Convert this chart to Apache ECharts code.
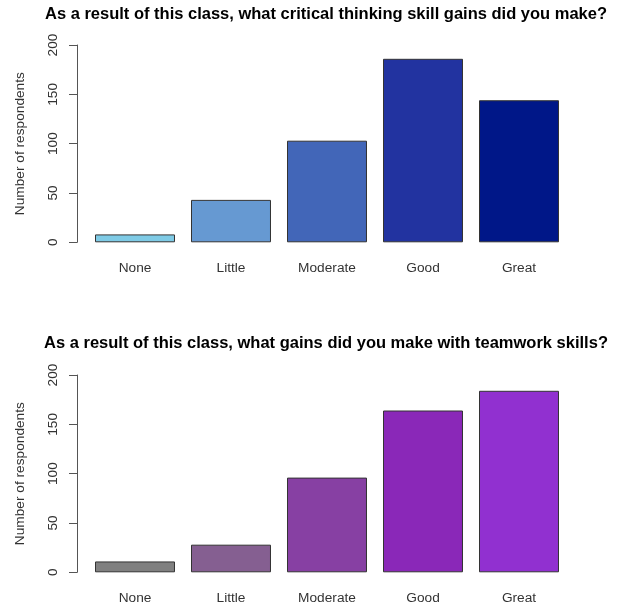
<!DOCTYPE html>
<html><head><meta charset="utf-8">
<script src="https://cdn.jsdelivr.net/npm/echarts@6/dist/echarts.min.js"></script>
<style>html,body{margin:0;padding:0;background:#fff}#c{width:619px;height:606px}</style>
</head><body><div id="c"></div>
<script>
var categories = ["None", "Little", "Moderate", "Good", "Great"];
var criticalValues = [8, 43, 103, 186, 144];
var teamworkValues = [11, 28, 96, 164, 184];
var criticalColors = ["#7fcbe6", "#6699d2", "#4266b8", "#2233a0", "#001788"];
var teamworkColors = ["#808080", "#855f91", "#8740a3", "#8a28b8", "#9130d0"];
var yTicks = [0, 50, 100, 150, 200];
var titles = ["As a result of this class, what critical thinking skill gains did you make?",
              "As a result of this class, what gains did you make with teamwork skills?"];
var yName = "Number of respondents";

var font = "Liberation Sans, Arial, Helvetica, sans-serif";
function items(vals, cols) {
  return vals.map(function (v, i) { return { value: v, itemStyle: { color: cols[i] } }; });
}
function xAx(idx) {
  return { type: 'category', gridIndex: idx, data: categories, boundaryGap: true,
    axisLine: { show: false }, axisTick: { show: false }, splitLine: { show: false },
    axisLabel: { margin: 19, fontSize: 13.7, color: '#333', fontFamily: font } };
}
function yAx(idx) {
  return { type: 'value', gridIndex: idx, min: yTicks[0], max: yTicks[yTicks.length - 1], interval: 50,
    offset: 10, name: yName, nameLocation: 'middle', nameGap: 50, nameRotate: 90,
    nameTextStyle: { fontSize: 13.7, color: '#333', fontFamily: font },
    axisLine: { show: true, lineStyle: { color: '#555', width: 1 } },
    axisTick: { show: true, length: 8, lineStyle: { color: '#555' } },
    splitLine: { show: false },
    axisLabel: { rotate: 90, margin: 17, fontSize: 13.7, color: '#333', fontFamily: font } };
}
var chart = echarts.init(document.getElementById('c'));
chart.setOption({
  animation: false,
  backgroundColor: '#fff',
  title: [
    { text: titles[0], left: 321, top: 1, textAlign: 'center',
      textStyle: { fontSize: 16.5, fontWeight: 'bold', color: '#000', fontFamily: font } },
    { text: titles[1], left: 321, top: 330, textAlign: 'center',
      textStyle: { fontSize: 16.5, fontWeight: 'bold', color: '#000', fontFamily: font } }
  ],
  grid: [
    { left: 87, width: 480, top: 45, height: 197.3 },
    { left: 87, width: 480, top: 375, height: 197.3 }
  ],
  xAxis: [xAx(0), xAx(1)],
  yAxis: [yAx(0), yAx(1)],
  series: [
    { type: 'bar', xAxisIndex: 0, yAxisIndex: 0, barWidth: '83.33%', data: items(criticalValues, criticalColors),
      itemStyle: { borderColor: '#333', borderWidth: 1 } },
    { type: 'bar', xAxisIndex: 1, yAxisIndex: 1, barWidth: '83.33%', data: items(teamworkValues, teamworkColors),
      itemStyle: { borderColor: '#333', borderWidth: 1 } }
  ]
});
</script></body></html>
